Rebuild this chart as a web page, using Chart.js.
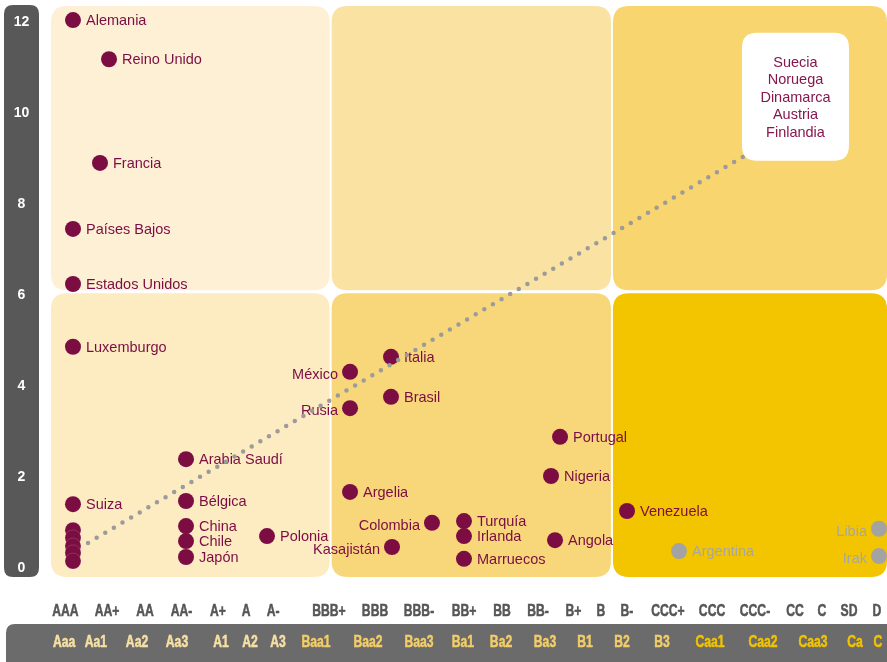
<!DOCTYPE html>
<html><head><meta charset="utf-8">
<script src="https://cdn.jsdelivr.net/npm/chart.js@4.4.1/dist/chart.umd.min.js"></script>
<style>html,body{margin:0;padding:0;background:#fff;}canvas{display:block;}</style>
</head><body>
<canvas id="c" width="887" height="662"></canvas>
<script>
// ---- Data (x = position on the rating scale, y = value) ----
const countries = ['Alemania','Reino Unido','Francia','Países Bajos','Estados Unidos','Luxemburgo','Suiza','Arabia Saudí','Bélgica','China','Chile','Japón','Polonia','México','Rusia','Italia','Brasil','Argelia','Colombia','Kasajistán','Turquía','Irlanda','Marruecos','Portugal','Nigeria','Angola','Venezuela'];
const countryX = [2.63,6.94,5.86,2.63,2.63,2.63,2.63,16.15,16.15,16.15,16.15,16.15,25.84,35.77,35.77,40.67,40.67,35.77,45.57,40.79,49.40,49.40,49.40,60.89,59.81,60.29,68.90];
const countryY = [12.02,11.16,8.88,7.43,6.22,4.84,1.38,2.37,1.45,0.90,0.57,0.22,0.68,4.29,3.49,4.62,3.74,1.65,0.97,0.44,1.01,0.68,0.18,2.86,2.00,0.59,1.23];

const grayCountries = ['Argentina','Libia','Irak'];
const grayX = [75.12,99.04,99.04];
const grayY = [0.35,0.84,0.24];

const nordicCountries = ['Suecia','Noruega','Dinamarca','Austria','Finlandia'];
const nordicX = [2.63,2.63,2.63,2.63,2.63];
const nordicY = [0.81,0.64,0.46,0.31,0.13];

const leftLabeled = ['México','Rusia','Colombia','Kasajistán','Libia','Irak'];

const trendX = [4.43,83.37];
const trendY = [0.53,9.08];

const yTicks = [0,2,4,6,8,10,12];

const spLabels = ['AAA','AA+','AA','AA-','A+','A','A-','BBB+','BBB','BBB-','BB+','BB','BB-','B+','B','B-','CCC+','CCC','CCC-','CC','C','SD','D'];
const spPos = [1.73,6.70,11.24,15.61,19.98,23.33,26.56,33.25,38.76,44.02,49.40,53.95,58.25,62.50,65.79,68.90,73.80,79.07,84.21,88.99,92.22,95.45,98.80];

const moodyLabels = ['Aaa','Aa1','Aa2','Aa3','A1','A2','A3','Baa1','Baa2','Baa3','Ba1','Ba2','Ba3','B1','B2','B3','Caa1','Caa2','Caa3','Ca','C'];
const moodyPos = [1.56,5.38,10.29,15.07,20.33,23.80,27.15,31.70,37.92,44.02,49.28,53.83,59.09,63.88,68.30,73.09,78.83,85.17,91.15,96.17,98.92];
const moodyGroup = [0,0,0,0,0,0,0,1,1,1,1,1,1,1,1,1,2,2,2,2,2];

const xBreaks = [33.45,67.1];
const yBreak = 6.05;

// ---- Styles ----
const MAROON = '#7B0D43';
const GRAY = '#A3A3A3';
const panelTop = ['#FEF0D5','#FAE2A3','#F8D56F'];
const panelBottom = ['#FDEBC1','#F8D77B','#F2C500'];
const moodyColors = ['#F6E0A4','#F3CD68','#F2C300'];
const LABEL_FONT = '14.5px "Liberation Sans", Arial, sans-serif';
const AXIS_FONT = 'bold 16px "Liberation Sans", Arial, sans-serif';
const NARROW = 0.76;

function rr(ctx,x,y,w,h,r){
  ctx.beginPath();
  ctx.moveTo(x+r,y);
  ctx.lineTo(x+w-r,y); ctx.quadraticCurveTo(x+w,y,x+w,y+r);
  ctx.lineTo(x+w,y+h-r); ctx.quadraticCurveTo(x+w,y+h,x+w-r,y+h);
  ctx.lineTo(x+r,y+h); ctx.quadraticCurveTo(x,y+h,x,y+h-r);
  ctx.lineTo(x,y+r); ctx.quadraticCurveTo(x,y,x+r,y);
  ctx.closePath();
}
function narrowText(ctx,t,x,y){
  ctx.save();
  ctx.translate(x,y);
  ctx.scale(NARROW,1);
  ctx.fillText(t,0,0);
  ctx.lineWidth = 0.5;
  ctx.strokeStyle = ctx.fillStyle;
  ctx.strokeText(t,0,0);
  ctx.restore();
}

const deco = {
  id:'deco',
  beforeDatasetsDraw(chart){
    const {ctx, chartArea:a, scales:{x,y}} = chart;
    ctx.save();
    // panels
    const p1 = x.getPixelForValue(xBreaks[0]), p2 = x.getPixelForValue(xBreaks[1]);
    const ym = y.getPixelForValue(yBreak);
    const cols = [[a.left,p1-1],[p1+1,p2-1],[p2+1,a.right]];
    const rows = [[a.top,ym-1.5],[ym+1.5,a.bottom]];
    cols.forEach((c,i)=>{
      ctx.fillStyle = panelTop[i]; rr(ctx,c[0],rows[0][0],c[1]-c[0],rows[0][1]-rows[0][0],16); ctx.fill();
      ctx.fillStyle = panelBottom[i]; rr(ctx,c[0],rows[1][0],c[1]-c[0],rows[1][1]-rows[1][0],16); ctx.fill();
    });
    // y axis bar
    ctx.fillStyle = '#585858';
    rr(ctx,4,a.top-1,35,a.bottom-a.top+1,9); ctx.fill();
    ctx.fillStyle = '#fff';
    ctx.font = 'bold 14px "Liberation Sans", Arial, sans-serif';
    ctx.textAlign = 'center'; ctx.textBaseline = 'middle';
    yTicks.forEach(t=>ctx.fillText(String(t),21.5,y.getPixelForValue(t)+1));
    // bottom bar
    ctx.fillStyle = '#6B6B6B';
    rr(ctx,6,624,900,60,9); ctx.fill();
    ctx.font = AXIS_FONT;
    ctx.fillStyle = '#565656';
    spLabels.forEach((l,i)=>narrowText(ctx,l,x.getPixelForValue(spPos[i]),612));
    moodyLabels.forEach((l,i)=>{
      ctx.fillStyle = moodyColors[moodyGroup[i]];
      narrowText(ctx,l,x.getPixelForValue(moodyPos[i]),643);
    });
    ctx.restore();
  },
  afterDatasetDraw(chart,args){
    const ds = chart.data.datasets[args.index];
    if(!ds.names) return;
    const ctx = chart.ctx;
    ctx.save();
    ctx.font = LABEL_FONT;
    ctx.fillStyle = ds.labelColor;
    ctx.textBaseline = 'middle';
    args.meta.data.forEach((pt,i)=>{
      const n = ds.names[i];
      const left = leftLabeled.includes(n);
      ctx.textAlign = left ? 'right' : 'left';
      ctx.fillText(n, pt.x + (left ? -12 : 13), pt.y + (left ? 3 : 1));
    });
    ctx.restore();
  },
  afterDatasetsDraw(chart){
    const {ctx, scales:{x,y}} = chart;
    const ex = x.getPixelForValue(trendX[1]), ey = y.getPixelForValue(trendY[1]);
    const w = 107, h = 128;
    const bx = ex - 6, by = ey + 7 - h;
    ctx.save();
    ctx.fillStyle = '#fff';
    rr(ctx,bx,by,w,h,15); ctx.fill();
    ctx.font = LABEL_FONT;
    ctx.fillStyle = '#85184F';
    ctx.textAlign = 'center'; ctx.textBaseline = 'middle';
    const lh = 17.6;
    const cy = by + h/2 + 1;
    nordicCountries.forEach((n,i)=>ctx.fillText(n, bx + w/2, cy + (i-2)*lh));
    ctx.restore();
  }
};

const toPts = (xs,ys)=>xs.map((v,i)=>({x:v,y:ys[i]}));

new Chart(document.getElementById('c'),{
  type:'scatter',
  data:{datasets:[
    {label:'Países', names:countries, labelColor:MAROON, data:toPts(countryX,countryY), backgroundColor:MAROON, borderWidth:0, pointRadius:8, order:2},
    {label:'Nórdicos', data:toPts(nordicX,nordicY), backgroundColor:MAROON, borderColor:'rgba(255,255,255,0.25)', borderWidth:0.6, pointRadius:8, order:2},
    {label:'Otros', names:grayCountries, labelColor:'#A6A6A6', data:toPts(grayX,grayY), backgroundColor:GRAY, borderWidth:0, pointRadius:8, order:3},
    {type:'line', label:'Tendencia', data:toPts(trendX,trendY), borderColor:'#9B9B9B', borderWidth:4.5, borderDash:[0,10], borderCapStyle:'round', pointRadius:0, fill:false, order:0}
  ]},
  options:{
    responsive:false, devicePixelRatio:1, animation:false,
    layout:{autoPadding:false, padding:{left:51,right:0,top:6,bottom:85}},
    plugins:{legend:{display:false},tooltip:{enabled:false}},
    scales:{
      x:{type:'linear',display:false,min:0,max:100},
      y:{type:'linear',display:false,min:-0.22,max:12.33}
    }
  },
  plugins:[deco]
});
</script>
</body></html>
